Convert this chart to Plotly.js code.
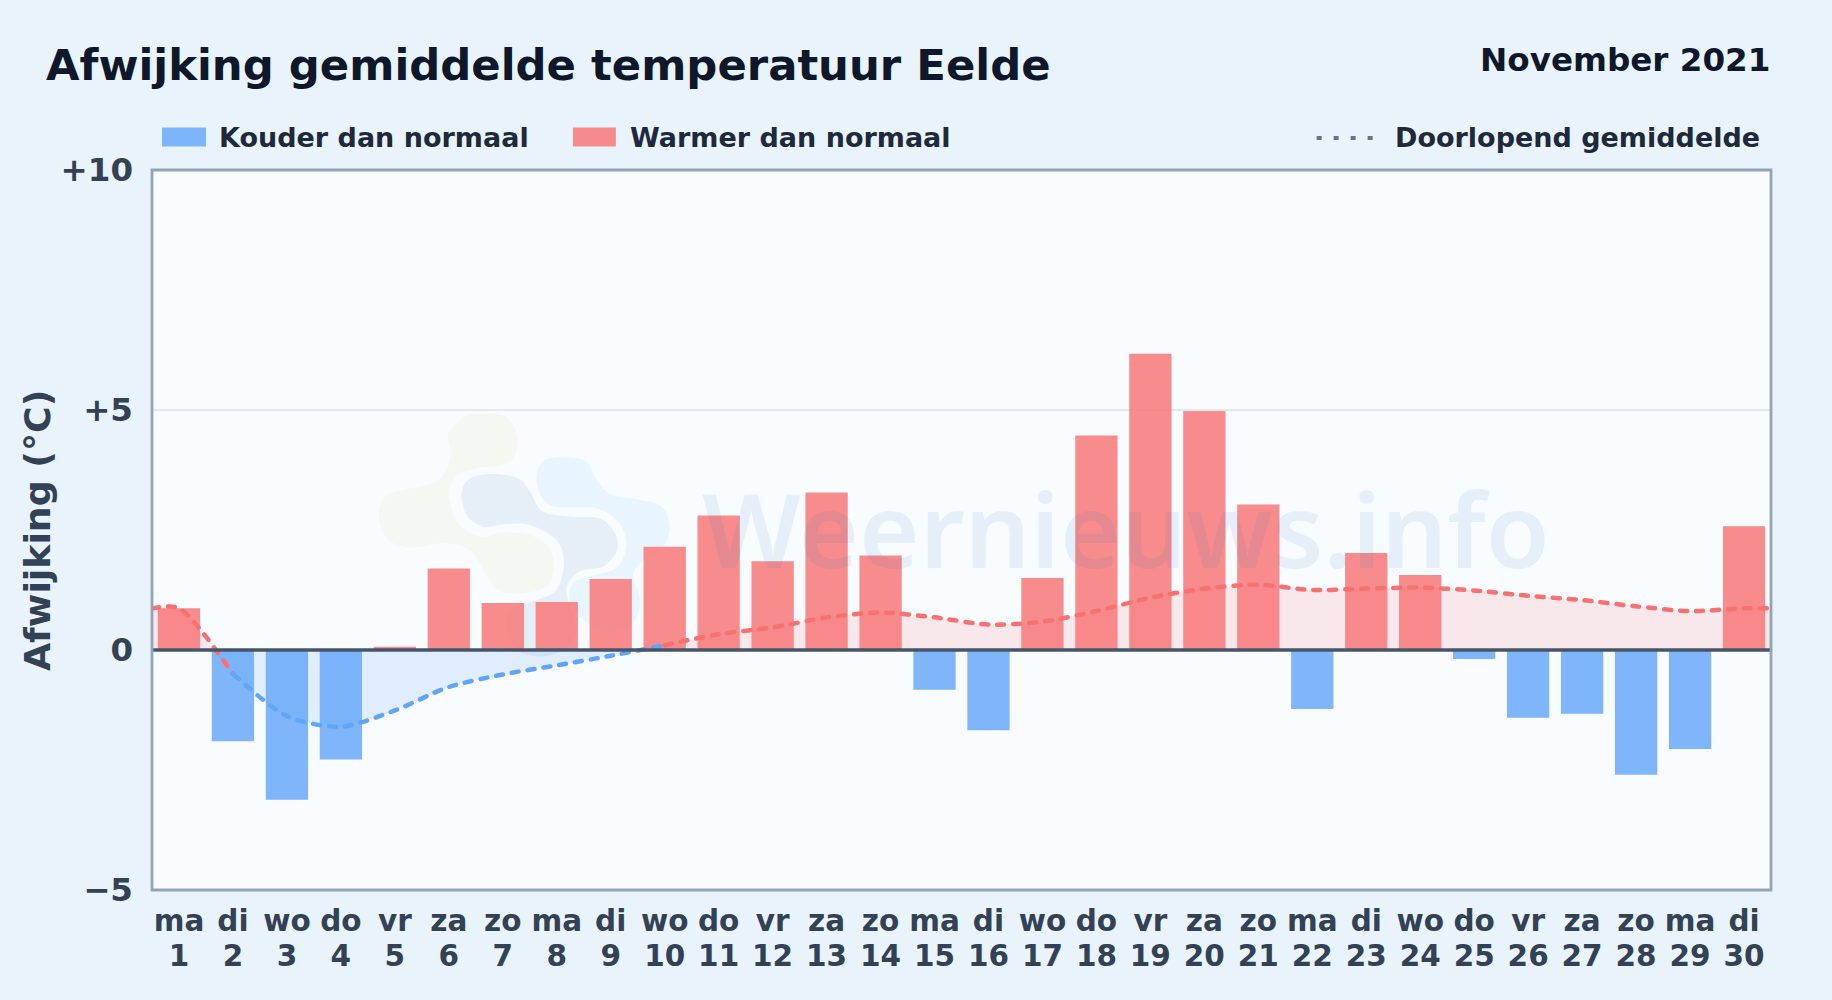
<!DOCTYPE html>
<html><head><meta charset="utf-8">
<script src="https://cdn.plot.ly/plotly-3.0.1.min.js"></script>
<style>html,body{margin:0;padding:0;background:#e8f3fc}#c{width:1832px;height:1000px}</style>
</head><body><div id="c"></div>
<script>
const days=[1,2,3,4,5,6,7,8,9,10,11,12,13,14,15,16,17,18,19,20,21,22,23,24,25,26,27,28,29,30];
const weekdays=["ma","di","wo","do","vr","za","zo","ma","di","wo","do","vr","za","zo","ma","di","wo","do","vr","za","zo","ma","di","wo","do","vr","za","zo","ma","di"];
const deviation=[0.87,-1.9,-3.12,-2.28,0.07,1.7,0.98,1.0,1.48,2.15,2.8,1.85,3.28,1.97,-0.83,-1.67,1.5,4.47,6.17,4.98,3.03,-1.23,2.02,1.56,-0.19,-1.41,-1.33,-2.6,-2.06,2.58];
const runningMean=[0.87,-0.5,-1.38,-1.6,-1.26,-0.77,-0.51,-0.32,-0.12,0.1,0.33,0.47,0.68,0.78,0.68,0.53,0.59,0.81,1.09,1.28,1.36,1.25,1.28,1.3,1.24,1.13,1.04,0.91,0.81,0.87];
const yTicks=[-5,0,5,10];
const yTickLabels=["−5","0","+5","+10"];

const FONT='"DejaVu Sans", sans-serif';
const PL=152,PR=1771.5,PT=169.5,PB=890.5;
const fx=x=>(x-PL)/(PR-PL), fy=y=>(PB-y)/(PB-PT);

// Logo blobs of the watermark, traced as closed smooth outlines
const logoGreen=[[235,100],[285,48],[345,40],[410,52],[442,110],[432,170],[395,195],[320,205],[265,222],[240,265],[240,305],[265,370],[330,410],[400,397],[480,405],[535,440],[552,500],[530,560],[450,580],[385,570],[345,520],[300,450],[220,430],[160,440],[100,440],[45,410],[27,340],[50,285],[120,265],[200,245],[238,190],[240,140]];
const logoGrey=[[275,280],[300,235],[370,222],[445,235],[480,275],[520,335],[610,350],[690,355],[735,400],[742,450],[700,500],[630,515],[590,560],[600,620],[620,690],[590,745],[515,770],[440,750],[410,680],[425,625],[500,600],[560,570],[582,490],[560,420],[480,375],[410,372],[340,380],[290,345]];
const logoBlue=[[500,225],[525,180],[590,172],[650,185],[680,240],[725,285],[800,297],[875,320],[900,380],[880,440],[820,480],[790,525],[810,600],[795,660],[740,695],[680,685],[620,640],[598,590],[615,545],[680,525],[745,500],[770,430],[745,365],[680,325],[600,322],[540,315],[510,280]];
function blob(pts,color){
  const P=pts.map(p=>[fx(370+p[0]/3),fy(400+p[1]/3)]),n=P.length;
  let d='M'+P[0][0]+' '+P[0][1];
  for(let i=0;i<n;i++){
    const a=P[(i-1+n)%n],b=P[i],c=P[(i+1)%n],e=P[(i+2)%n];
    d+=' C'+(b[0]+(c[0]-a[0])/6)+' '+(b[1]+(c[1]-a[1])/6)+' '+(c[0]-(e[0]-b[0])/6)+' '+(c[1]-(e[1]-b[1])/6)+' '+c[0]+' '+c[1];
  }
  return {type:'path',xref:'paper',yref:'paper',path:d+' Z',fillcolor:color,line:{width:0},layer:'below'};
}

const RED='#f87171',BLUE='#60a5fa';
const spline={shape:'spline',smoothing:0.75};
const pick=(a,from,to)=>a.slice(from-1,to);
const crossDown=1.61,crossUp=9.58,edgeL=0.5,edgeR=30.5;
const colder=days.filter((d,i)=>deviation[i]<0), colderV=deviation.filter(v=>v<0);
const warmer=days.filter((d,i)=>deviation[i]>=0), warmerV=deviation.filter(v=>v>=0);

function area(x,y,fill){return {type:'scatter',mode:'none',x,y,fill:'tozeroy',fillcolor:fill,line:{...spline,width:0},showlegend:false,hoverinfo:'skip'};}
function seg(x,y,color,name){return {type:'scatter',mode:'lines',x,y,name,line:{...spline,color,width:4.5,dash:'7px,9px'},showlegend:false};}

const traces=[
  area([edgeL,1,crossDown],[runningMean[0],runningMean[0],0],'rgba(248,113,113,0.14)'),
  area([crossDown,...pick(days,2,9),crossUp],[0,...pick(runningMean,2,9),0],'rgba(96,165,250,0.16)'),
  area([crossUp,...pick(days,10,30),edgeR],[0,...pick(runningMean,10,30),runningMean[29]],'rgba(248,113,113,0.14)'),
  {type:'bar',name:'Kouder dan normaal',x:colder,y:colderV,width:0.784,marker:{color:BLUE,opacity:0.8,line:{width:0}},showlegend:false},
  {type:'bar',name:'Warmer dan normaal',x:warmer,y:warmerV,width:0.784,marker:{color:RED,opacity:0.8,line:{width:0}},showlegend:false},
  seg([edgeL,...pick(days,1,2)],[runningMean[0],...pick(runningMean,1,2)],RED,'Doorlopend gemiddelde'),
  seg(pick(days,2,10),pick(runningMean,2,10),BLUE,'Doorlopend gemiddelde'),
  seg([...pick(days,10,30),edgeR],[...pick(runningMean,10,30),runningMean[29]],RED,'Doorlopend gemiddelde')
];

const legendFont={family:FONT,size:27,color:'#1e293b',weight:700};
function note(text,x,y,anchor,font){return {text:text,xref:'paper',yref:'paper',x:fx(x),y:fy(y),xanchor:anchor,yanchor:'middle',showarrow:false,font:font};}
const layout={
  width:1832,height:1000,
  paper_bgcolor:'#e8f3fc',plot_bgcolor:'#f8fbff',
  margin:{l:PL,r:1832-PR,t:PT,b:1000-PB,pad:0},
  barmode:'overlay',showlegend:false,
  title:{text:'<b>Afwijking gemiddelde temperatuur Eelde</b>',x:46/1832,xanchor:'left',xref:'container',y:1-65/1000,yanchor:'middle',yref:'container',font:{family:FONT,size:43.35,color:'#0f172a'}},
  xaxis:{range:[edgeL,edgeR],tickmode:'array',tickvals:days,ticktext:days.map((d,i)=>weekdays[i]+'<br>'+d),ticks:'',showgrid:false,zeroline:false,
    showline:false,tickangle:0,ticklabelstandoff:10,tickfont:{family:FONT,size:29.5,color:'#334155',weight:700}},
  yaxis:{range:[-5,10],tickmode:'array',tickvals:yTicks,ticktext:yTickLabels,ticks:'',gridcolor:'#e2e8f0',gridwidth:1.5,zeroline:false,
    showline:false,ticklabelstandoff:18,tickfont:{family:FONT,size:32.5,color:'#334155',weight:700}},
  shapes:[
    blob(logoGreen,'#f3f9f1'),blob(logoBlue,'#e8f4fe'),blob(logoGrey,'#e6eff8'),
    {type:'line',xref:'paper',yref:'y',x0:0,x1:1,y0:0,y1:0,line:{color:'#475569',width:3.5},layer:'above'},
    {type:'rect',xref:'paper',yref:'paper',x0:0,x1:1,y0:0,y1:1,fillcolor:'rgba(0,0,0,0)',line:{color:'#94a3b8',width:2.8},layer:'above'},
    {type:'rect',xref:'paper',yref:'paper',x0:fx(162),x1:fx(206),y0:fy(127),y1:fy(146),fillcolor:'rgba(96,165,250,0.8)',line:{width:0}},
    {type:'rect',xref:'paper',yref:'paper',x0:fx(573),x1:fx(616),y0:fy(127),y1:fy(146),fillcolor:'rgba(248,113,113,0.8)',line:{width:0}},
    {type:'line',xref:'paper',yref:'paper',x0:fx(1317),x1:fx(1375),y0:fy(137.5),y1:fy(137.5),line:{color:'#64748b',width:4,dash:'5px,12px'}}
  ],
  annotations:[
    note('<b>November 2021</b>',1773,59,'right',{family:FONT,size:32.6,color:'#0f172a'}),
    note('<b>Kouder dan normaal</b>',217,136.5,'left',legendFont),
    note('<b>Warmer dan normaal</b>',628,136.5,'left',legendFont),
    note('<b>Doorlopend gemiddelde</b>',1762,136.5,'right',legendFont),
    {text:'<b>Afwijking (°C)</b>',xref:'paper',yref:'paper',x:fx(38),y:fy(531),xanchor:'center',yanchor:'middle',textangle:-90,showarrow:false,font:{family:FONT,size:36.3,color:'#334155'}},
    {text:'Weernieuws.info',xref:'paper',yref:'paper',x:fx(700),y:fy(527),xanchor:'left',yanchor:'middle',showarrow:false,
      font:{family:'"Noto Sans", sans-serif',size:103.5,weight:600,color:'rgba(30,120,190,0.085)'}}
  ]
};
const gd=document.getElementById('c');
function polish(){
  gd.querySelectorAll('.xtick text tspan.line').forEach((t,i)=>{ if(i%2===1) t.setAttribute('dy','1.19em'); });
  gd.querySelectorAll('.scatterlayer .js-line').forEach(p=>{p.style.strokeLinecap='round';});
}
Plotly.newPlot(gd,traces,layout,{displayModeBar:false,responsive:false}).then(()=>{polish();gd.on('plotly_afterplot',polish);});
</script></body></html>
